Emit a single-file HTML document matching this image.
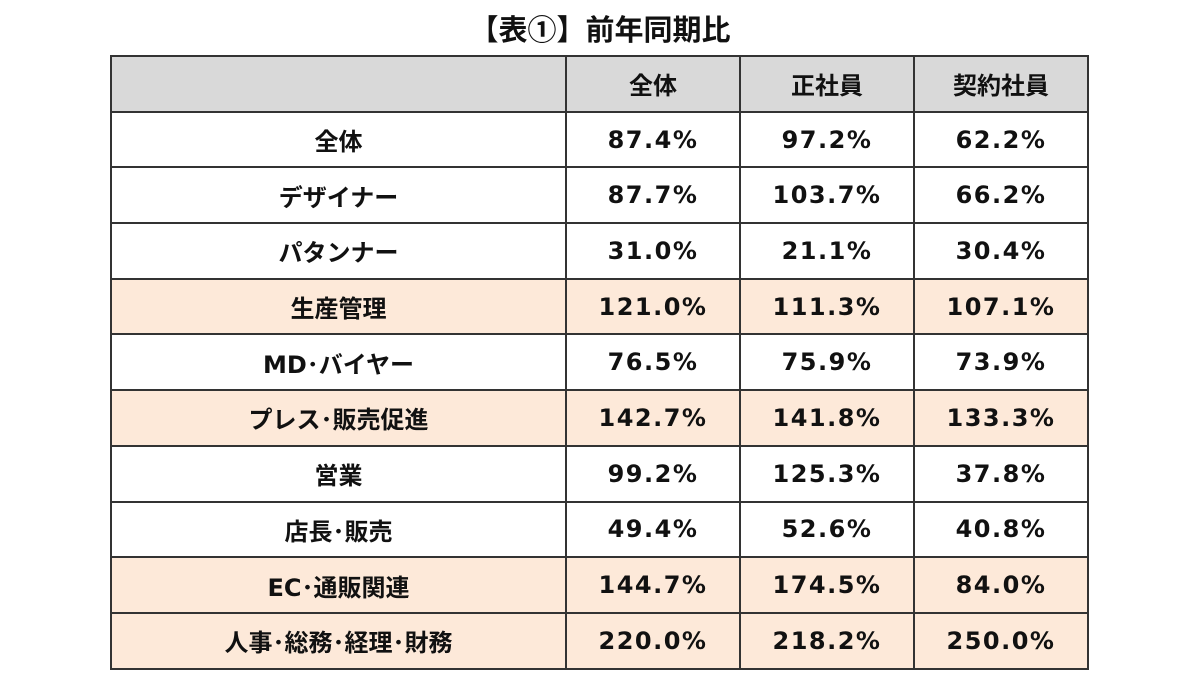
<!DOCTYPE html>
<html><head><meta charset="utf-8"><style>
body{margin:0;width:1200px;height:700px;background:#fff;font-family:"DejaVu Sans","Noto Sans CJK JP",sans-serif;font-weight:bold;color:#111;position:relative;overflow:hidden}
.t{position:absolute;top:8px;left:0;width:1200px;text-align:center;font-size:29px;line-height:40px;font-family:"Noto Sans CJK JP",sans-serif;font-weight:bold}
table{position:absolute;left:110px;top:55px;border-collapse:collapse;table-layout:fixed}
td{border:2px solid #333;height:53.7px;padding:0;text-align:center;font-size:24px;letter-spacing:1.5px}
td.l{font-family:"DejaVu Sans","Noto Sans CJK JP",sans-serif;font-size:24px;letter-spacing:0}
tr.h td{background:#d9d9d9;font-family:"Noto Sans CJK JP",sans-serif;font-size:24px;letter-spacing:0}
tr.p td{background:#fde9d9}
</style></head><body>
<div class="t">【表①】前年同期比</div>
<table>
<colgroup><col style="width:455px"><col style="width:174px"><col style="width:174px"><col style="width:174px"></colgroup>
<tr class="h"><td></td><td>全体</td><td>正社員</td><td>契約社員</td></tr>
<tr><td class="l">全体</td><td>87.4%</td><td>97.2%</td><td>62.2%</td></tr>
<tr><td class="l">デザイナー</td><td>87.7%</td><td>103.7%</td><td>66.2%</td></tr>
<tr><td class="l">パタンナー</td><td>31.0%</td><td>21.1%</td><td>30.4%</td></tr>
<tr class="p"><td class="l">生産管理</td><td>121.0%</td><td>111.3%</td><td>107.1%</td></tr>
<tr><td class="l">MD･バイヤー</td><td>76.5%</td><td>75.9%</td><td>73.9%</td></tr>
<tr class="p"><td class="l">プレス･販売促進</td><td>142.7%</td><td>141.8%</td><td>133.3%</td></tr>
<tr><td class="l">営業</td><td>99.2%</td><td>125.3%</td><td>37.8%</td></tr>
<tr><td class="l">店長･販売</td><td>49.4%</td><td>52.6%</td><td>40.8%</td></tr>
<tr class="p"><td class="l">EC･通販関連</td><td>144.7%</td><td>174.5%</td><td>84.0%</td></tr>
<tr class="p"><td class="l">人事･総務･経理･財務</td><td>220.0%</td><td>218.2%</td><td>250.0%</td></tr>
</table>
</body></html>
